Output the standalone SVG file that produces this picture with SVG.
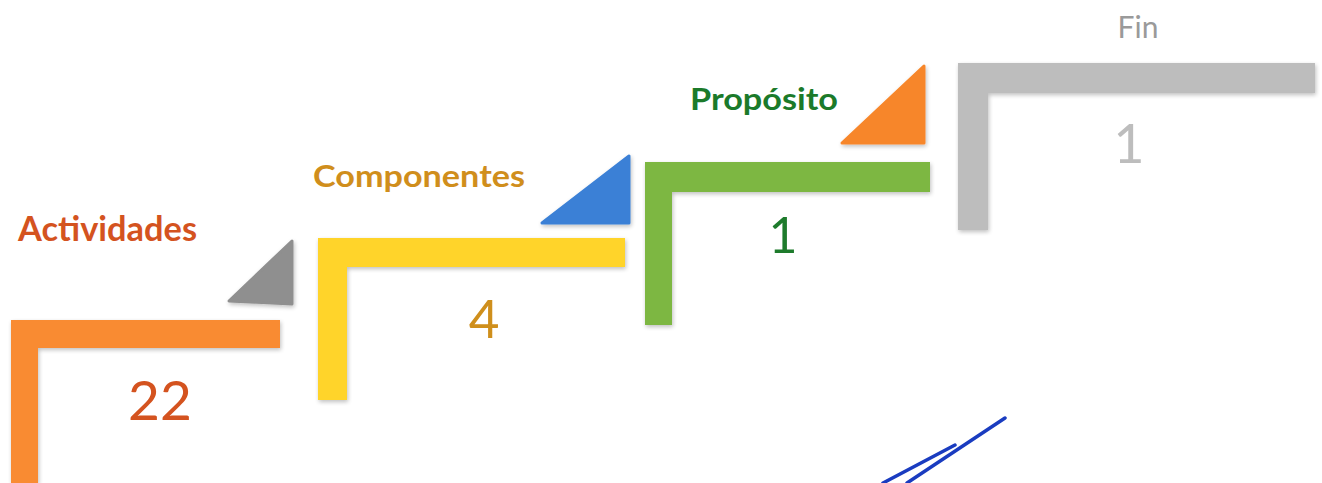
<svg xmlns="http://www.w3.org/2000/svg" width="1322" height="483" viewBox="0 0 1322 483">
<defs>
<filter id="sh" x="-10%" y="-10%" width="130%" height="130%">
<feGaussianBlur in="SourceAlpha" stdDeviation="2"/>
<feOffset dx="1" dy="2" result="b"/>
<feComponentTransfer><feFuncA type="linear" slope="0.25"/></feComponentTransfer>
<feMerge><feMergeNode/><feMergeNode in="SourceGraphic"/></feMerge>
</filter>
</defs>
<style>
.lbl{font-family:Lato,"Open Sans","Liberation Sans",sans-serif;font-weight:bold;}
.num{font-family:Lato,"Open Sans","Liberation Sans",sans-serif;font-weight:normal;text-anchor:middle;}
.step{filter:url(#sh);}
.tri{filter:url(#sh);stroke-linejoin:round;stroke-width:3;}
</style>
<rect width="1322" height="483" fill="#ffffff"/>
<g id="actividades">
<path class="step" d="M11,320 H280 V348 H38 V483 H11 Z" fill="#F98B30"/>
<polygon class="tri" points="229,301 292,241 292,304" fill="#8F8F8F" stroke="#8F8F8F"/>
<text class="lbl" x="18" y="241" font-size="34" fill="#D4531F" textLength="179" lengthAdjust="spacingAndGlyphs">Actividades</text>
<text class="num" x="160" y="420" font-size="55" fill="#D4531F">22</text>
</g>
<g id="componentes">
<path class="step" d="M318,238 H625 V267 H347 V400 H318 Z" fill="#FFD42A"/>
<polygon class="tri" points="542,223 629,156 629,223" fill="#3B80D6" stroke="#3B80D6"/>
<text class="lbl" x="313" y="187" font-size="31" fill="#D08E1C" textLength="212" lengthAdjust="spacingAndGlyphs">Componentes</text>
<text class="num" x="484" y="338" font-size="53" fill="#CF8F1C">4</text>
</g>
<g id="proposito">
<path class="step" d="M645,162 H930 V192 H672 V325 H645 Z" fill="#7DB742"/>
<polygon class="tri" points="842,143 924,66 924,143" fill="#F7862A" stroke="#F7862A"/>
<text class="lbl" x="690" y="110" font-size="31" fill="#1B7A2A" textLength="148" lengthAdjust="spacingAndGlyphs">Propósito</text>
<text class="num" x="783" y="253" font-size="50" fill="#1E7B2C">1</text>
</g>
<g id="fin">
<path class="step" d="M958,63 H1315 V93 H988 V230 H958 Z" fill="#BDBDBD"/>
<text class="num" x="1138" y="38" font-size="30" fill="#9A9A9A">Fin</text>
<text class="num" x="1129" y="163" font-size="54" fill="#BDBDBD">1</text>
</g>
<g id="connectors">
<line x1="883" y1="483" x2="955" y2="445" stroke="#1A3CC0" stroke-width="3.5" stroke-linecap="round"/>
<line x1="907" y1="483" x2="1005" y2="418" stroke="#1A3CC0" stroke-width="3.5" stroke-linecap="round"/>
</g>
</svg>
